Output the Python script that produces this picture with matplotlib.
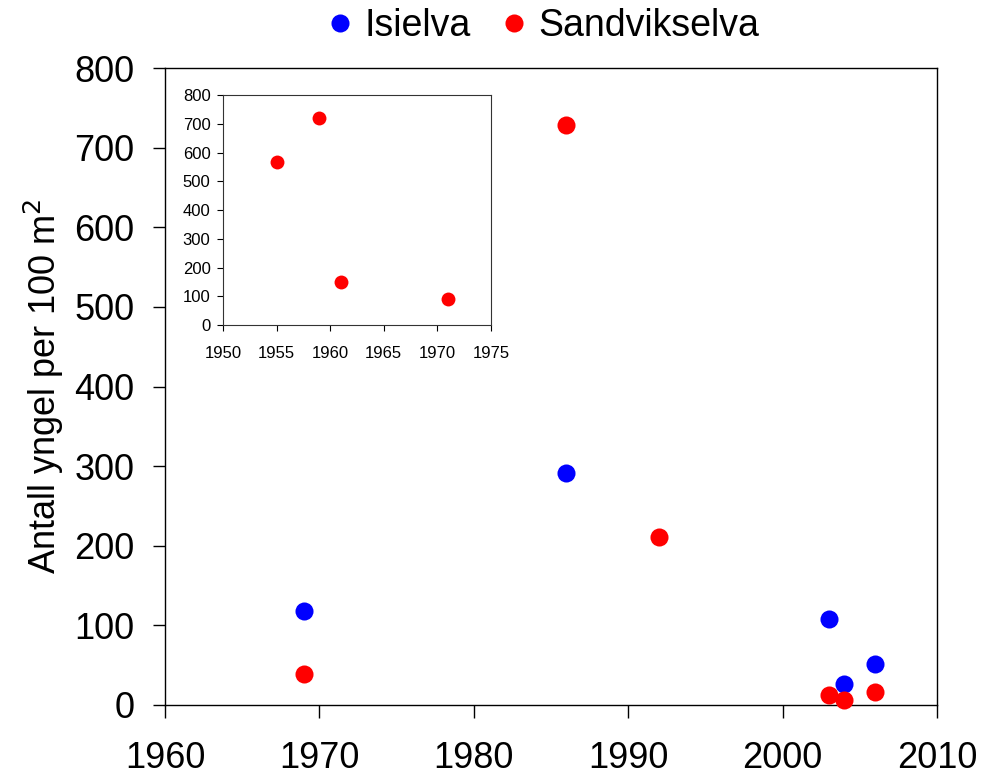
import matplotlib
matplotlib.use("Agg")
import matplotlib.pyplot as plt
from matplotlib.lines import Line2D

plt.rcParams['font.family'] = ['Liberation Sans', 'DejaVu Sans']

# Main chart data
isielva_years = [1969, 1986, 2003, 2004, 2006]
isielva_vals = [118, 291, 108, 26, 52]
sandvik_years = [1969, 1986, 1992, 2003, 2004, 2006]
sandvik_vals = [39, 729, 211, 12, 6, 16]

# Inset data (Sandvikselva, early years)
inset_years = [1955, 1959, 1961, 1971]
inset_vals = [567, 720, 150, 90]

main_xticks = [1960, 1970, 1980, 1990, 2000, 2010]
main_yticks = [0, 100, 200, 300, 400, 500, 600, 700, 800]
inset_xticks = [1950, 1955, 1960, 1965, 1970, 1975]
inset_yticks = [0, 100, 200, 300, 400, 500, 600, 700, 800]

BLUE = '#0000ff'
RED = '#ff0000'

fig = plt.figure(figsize=(9.83, 7.78), dpi=100)
ax = fig.add_axes([165/983, 1-705/778, (937-165)/983, (705-68)/778])

ax.plot(isielva_years, isielva_vals, 'o', color=BLUE, markersize=13, markeredgewidth=0, clip_on=False, zorder=3)
ax.plot(sandvik_years, sandvik_vals, 'o', color=RED, markersize=13, markeredgewidth=0, clip_on=False, zorder=3)

ax.set_xlim(1960, 2010)
ax.set_ylim(0, 800)
ax.set_xticks(main_xticks)
ax.set_yticks(main_yticks)
ax.tick_params(axis='x', direction='out', length=9, width=1, pad=17, labelsize=26)
ax.tick_params(axis='y', direction='out', length=9, width=1, pad=13, labelsize=26)
for s in ax.spines.values():
    s.set_linewidth(1.0)
    s.set_color('black')
ax.set_ylabel('Antall yngel per 100 m$^2$', fontsize=26, labelpad=6)

handles = [Line2D([], [], marker='o', linestyle='none', color=BLUE, markersize=13, markeredgewidth=0),
           Line2D([], [], marker='o', linestyle='none', color=RED, markersize=13, markeredgewidth=0)]
fig.legend(handles, ['Isielva', 'Sandvikselva'], loc='center', bbox_to_anchor=(545/983, 1-26/778),
           ncol=2, frameon=False, fontsize=27, handlelength=0.5, handletextpad=0.4, columnspacing=0.9)

ins = fig.add_axes([223/983, 1-325/778, (491-223)/983, (325-95)/778])
ins.plot(inset_years, inset_vals, 'o', color=RED, markersize=10, markeredgewidth=0, clip_on=False)
ins.set_xlim(1950, 1975)
ins.set_ylim(0, 800)
ins.set_xticks(inset_xticks)
ins.set_yticks(inset_yticks)
ins.tick_params(axis='x', direction='out', length=4, width=0.8, pad=11, labelsize=12)
ins.tick_params(axis='y', direction='out', length=4, width=0.8, pad=5, labelsize=12)
for s in ins.spines.values():
    s.set_linewidth(0.8)
    s.set_color('#333333')

fig.savefig('out.png', dpi=100)
